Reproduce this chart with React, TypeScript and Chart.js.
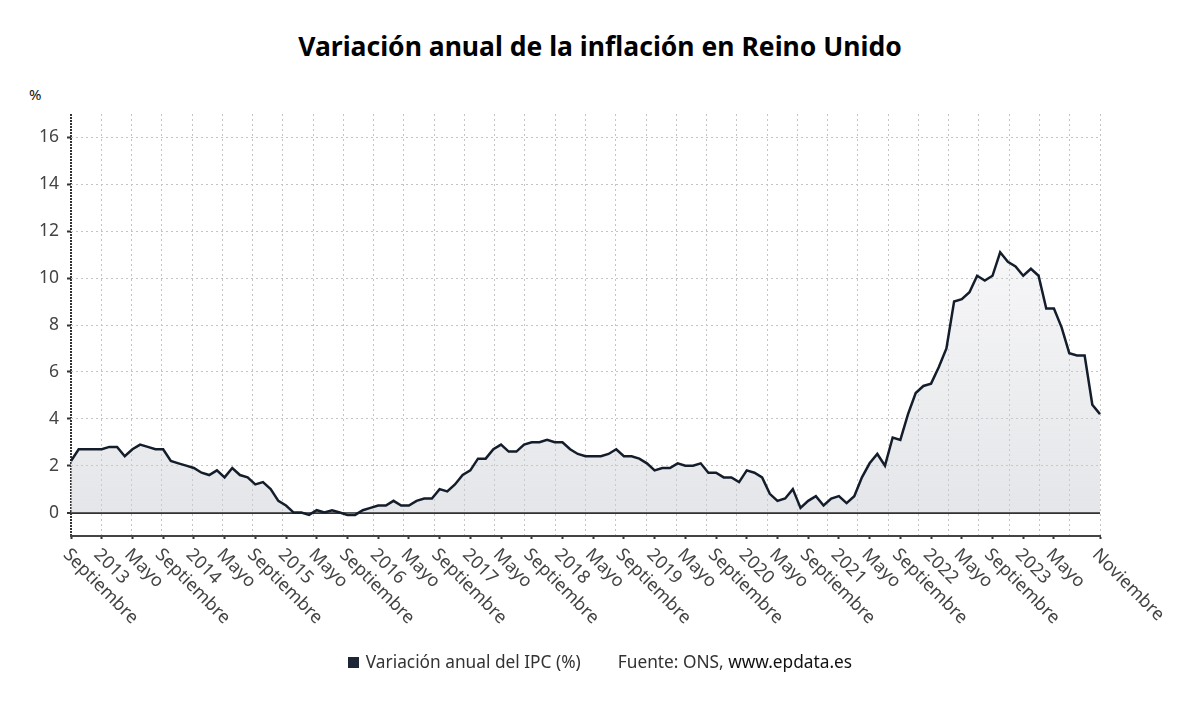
import React, { useEffect, useRef } from "react";
import { Chart, registerables } from "chart.js";
Chart.register(...registerables);

const monthNames = ["Ene", "Feb", "Mar", "Abr", "May", "Jun", "Jul", "Ago", "Sep", "Oct", "Nov", "Dic"];

// Variación anual del IPC (%) — Reino Unido
const cpi2012 = [2.2, 2.7, 2.7, 2.7]; // Sep–Dic
const cpi2013 = [2.7, 2.8, 2.8, 2.4, 2.7, 2.9, 2.8, 2.7, 2.7, 2.2, 2.1, 2.0];
const cpi2014 = [1.9, 1.7, 1.6, 1.8, 1.5, 1.9, 1.6, 1.5, 1.2, 1.3, 1.0, 0.5];
const cpi2015 = [0.3, 0.0, 0.0, -0.1, 0.1, 0.0, 0.1, 0.0, -0.1, -0.1, 0.1, 0.2];
const cpi2016 = [0.3, 0.3, 0.5, 0.3, 0.3, 0.5, 0.6, 0.6, 1.0, 0.9, 1.2, 1.6];
const cpi2017 = [1.8, 2.3, 2.3, 2.7, 2.9, 2.6, 2.6, 2.9, 3.0, 3.0, 3.1, 3.0];
const cpi2018 = [3.0, 2.7, 2.5, 2.4, 2.4, 2.4, 2.5, 2.7, 2.4, 2.4, 2.3, 2.1];
const cpi2019 = [1.8, 1.9, 1.9, 2.1, 2.0, 2.0, 2.1, 1.7, 1.7, 1.5, 1.5, 1.3];
const cpi2020 = [1.8, 1.7, 1.5, 0.8, 0.5, 0.6, 1.0, 0.2, 0.5, 0.7, 0.3, 0.6];
const cpi2021 = [0.7, 0.4, 0.7, 1.5, 2.1, 2.5, 2.0, 3.2, 3.1, 4.2, 5.1, 5.4];
const cpi2022 = [5.5, 6.2, 7.0, 9.0, 9.1, 9.4, 10.1, 9.9, 10.1, 11.1, 10.7, 10.5];
const cpi2023 = [10.1, 10.4, 10.1, 8.7, 8.7, 7.9, 6.8, 6.7, 6.7, 4.6, 4.2]; // Ene–Nov

const cpiValues = [
  ...cpi2012, ...cpi2013, ...cpi2014, ...cpi2015, ...cpi2016, ...cpi2017,
  ...cpi2018, ...cpi2019, ...cpi2020, ...cpi2021, ...cpi2022, ...cpi2023,
];

const startYear = 2012;
const startMonth = 8; // septiembre
const categories = cpiValues.map((_, i) => {
  const m = (startMonth + i) % 12;
  const y = startYear + Math.floor((startMonth + i) / 12);
  return `${monthNames[m]} ${y}`;
});

const tickMonths = [
  "Sep 2012", "Ene 2013", "May 2013", "Sep 2013", "Ene 2014", "May 2014", "Sep 2014",
  "Ene 2015", "May 2015", "Sep 2015", "Ene 2016", "May 2016", "Sep 2016",
  "Ene 2017", "May 2017", "Sep 2017", "Ene 2018", "May 2018", "Sep 2018",
  "Ene 2019", "May 2019", "Sep 2019", "Ene 2020", "May 2020", "Sep 2020",
  "Ene 2021", "May 2021", "Sep 2021", "Ene 2022", "May 2022", "Sep 2022",
  "Ene 2023", "May 2023", "Nov 2023",
];
const tickLabels = [
  "Septiembre", "2013", "Mayo", "Septiembre", "2014", "Mayo", "Septiembre",
  "2015", "Mayo", "Septiembre", "2016", "Mayo", "Septiembre",
  "2017", "Mayo", "Septiembre", "2018", "Mayo", "Septiembre",
  "2019", "Mayo", "Septiembre", "2020", "Mayo", "Septiembre",
  "2021", "Mayo", "Septiembre", "2022", "Mayo", "Septiembre",
  "2023", "Mayo", "Noviembre",
];
const yTickValues = [0, 2, 4, 6, 8, 10, 12, 14, 16];
const yMin = -1;
const yMax = 17;
const gridDivisions = 34;

const FONT = '"Noto Sans", "Open Sans", sans-serif';

const xLabelPlugin = {
  id: "xLabels",
  afterDraw(chart: any) {
    const scale = chart.scales.x;
    const ctx = chart.ctx;
    ctx.save();
    ctx.font = `18px ${FONT}`;
    ctx.fillStyle = "#444";
    ctx.textAlign = "left";
    ctx.textBaseline = "middle";
    scale.ticks.forEach((t: any, i: number) => {
      const x = scale.getPixelForValue(t.value);
      ctx.save();
      ctx.translate(x - 5, scale.top + 16);
      ctx.rotate(Math.PI / 4);
      ctx.fillText(tickLabels[i], 0, 0);
      ctx.restore();
    });
    ctx.restore();
  },
};

export default function App() {
  const canvasRef = useRef<HTMLCanvasElement | null>(null);

  useEffect(() => {
    document.body.style.margin = "0";
    const canvas = canvasRef.current;
    if (!canvas) return;
    const chart = new Chart(canvas, {
      type: "line",
      data: {
        labels: categories,
        datasets: [
          {
            label: "Variación anual del IPC (%)",
            data: cpiValues,
            borderColor: "#141d2b",
            borderWidth: 2.5,
            pointRadius: 0,
            tension: 0,
            fill: "origin",
            xAxisID: "x",
            yAxisID: "y",
            backgroundColor: (c: any) => {
              const ch = c.chart;
              const area = ch.chartArea;
              if (!area) return "rgba(0,0,0,0)";
              const zero = ch.scales.y.getPixelForValue(0);
              const g = ch.ctx.createLinearGradient(0, area.top, 0, zero);
              g.addColorStop(0, "rgba(205,207,213,0)");
              g.addColorStop(1, "rgba(205,207,213,0.52)");
              return g;
            },
          },
        ],
      },
      options: {
        animation: false,
        responsive: true,
        maintainAspectRatio: false,
        layout: { padding: { top: 114, right: 100, bottom: 0, left: 0 } },
        plugins: {
          legend: { display: false },
          title: { display: false },
          tooltip: { enabled: false },
        },
        scales: {
          x: {
            type: "category",
            position: "bottom",
            offset: false,
            afterBuildTicks: (scale: any) => {
              scale.ticks = tickMonths.map((m) => ({ value: categories.indexOf(m) }));
            },
            afterFit: (scale: any) => {
              scale.height = 169;
            },
            ticks: { display: false, autoSkip: false },
            grid: {
              display: true,
              drawOnChartArea: false,
              drawTicks: true,
              tickLength: 3,
              tickColor: "#333",
              tickWidth: 2,
            },
            border: { display: true, color: "#444", width: 2 },
          },
          xg: {
            type: "linear",
            position: "bottom",
            min: 0,
            max: gridDivisions,
            afterBuildTicks: (scale: any) => {
              const arr = [];
              for (let i = 0; i <= gridDivisions; i++) arr.push({ value: i });
              scale.ticks = arr;
            },
            afterFit: (scale: any) => {
              scale.height = 0;
            },
            ticks: { display: false },
            grid: {
              display: true,
              drawOnChartArea: true,
              drawTicks: false,
              color: (c: any) => (c.index === 0 ? "#333" : "#c4c4c4"),
              lineWidth: (c: any) => (c.index === 0 ? 2 : 1),
            },
            border: {
              display: false,
              dash: (c: any) => (c.index === 0 ? [2, 1] : [2, 3]),
            },
          },
          y: {
            type: "linear",
            position: "left",
            min: yMin,
            max: yMax,
            afterBuildTicks: (scale: any) => {
              scale.ticks = yTickValues.map((v) => ({ value: v }));
            },
            afterFit: (scale: any) => {
              scale.width = 71;
            },
            ticks: {
              font: { family: FONT, size: 17.5 },
              color: "#444",
              padding: 8,
            },
            grid: {
              display: true,
              drawOnChartArea: true,
              drawTicks: true,
              tickLength: 4,
              tickColor: "#333",
              tickWidth: 2,
              color: (c: any) => (c.tick && c.tick.value === 0 ? "#333" : "#c4c4c4"),
              lineWidth: (c: any) => (c.tick && c.tick.value === 0 ? 2 : 1),
            },
            border: {
              display: false,
              dash: (c: any) => (c.tick && c.tick.value === 0 ? [] : [2, 3]),
            },
          },
        },
      },
      plugins: [xLabelPlugin],
    });
    return () => chart.destroy();
  }, []);

  return (
    <div
      style={{
        position: "absolute",
        left: 0,
        top: 0,
        width: 1200,
        height: 705,
        background: "#fff",
        fontFamily: FONT,
      }}
    >
      <div
        style={{
          position: "absolute",
          left: 0,
          top: 30,
          width: 1200,
          textAlign: "center",
          fontSize: 26.5,
          lineHeight: "32px",
          fontWeight: 700,
          color: "#000",
        }}
      >
        Variación anual de la inflación en Reino Unido
      </div>
      <div
        style={{
          position: "absolute",
          left: 29,
          top: 84,
          fontSize: 15,
          lineHeight: "20px",
          color: "#111",
        }}
      >
        %
      </div>
      <div style={{ position: "absolute", left: 0, top: 0, width: 1200, height: 705 }}>
        <canvas ref={canvasRef} />
      </div>
      <div
        style={{
          position: "absolute",
          left: 0,
          top: 650,
          width: 1200,
          display: "flex",
          justifyContent: "center",
          alignItems: "center",
          fontSize: 17.3,
          lineHeight: "24px",
          color: "#333",
        }}
      >
        <span
          style={{
            display: "inline-block",
            width: 11,
            height: 11,
            background: "#1c2636",
            marginRight: 7,
          }}
        />
        <span>Variación anual del IPC (%)</span>
        <span style={{ marginLeft: 37 }}>
          Fuente: ONS, <span style={{ color: "#111" }}>www.epdata.es</span>
        </span>
      </div>
    </div>
  );
}
